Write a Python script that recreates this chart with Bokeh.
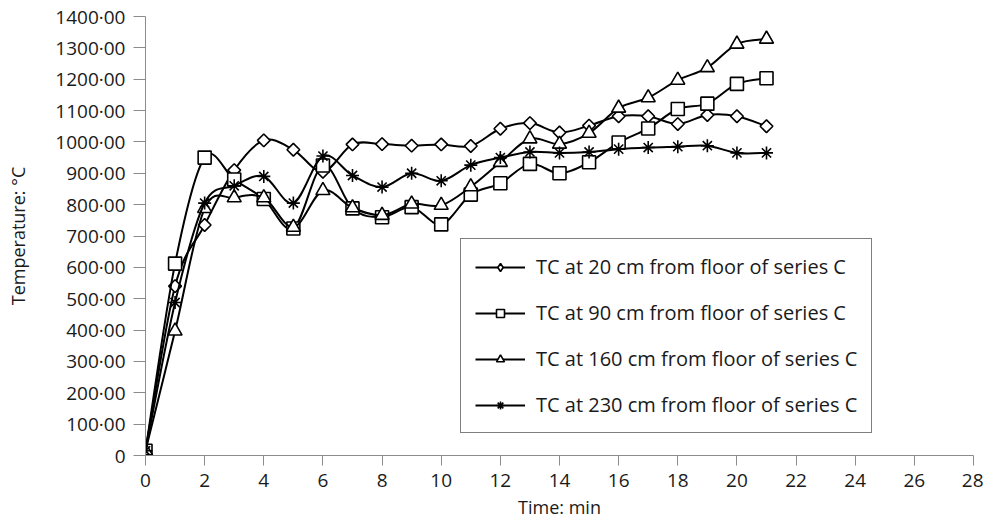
import math
from bokeh.plotting import figure
from bokeh.models import (Range1d, CustomJSTickFormatter, FixedTicker, Legend, LegendItem,
                          ColumnDataSource)
from bokeh.embed import file_html
from bokeh.resources import INLINE

# ---- data ----
minutes = list(range(0, 22))
tc_20 = [15, 540, 735, 910, 1005, 975, 905, 992, 993, 988, 992, 987, 1042, 1060, 1030, 1052,
         1082, 1082, 1057, 1086, 1082, 1050]
tc_90 = [15, 612, 950, 880, 818, 724, 925, 788, 760, 792, 737, 832, 868, 930, 900, 935,
         998, 1043, 1105, 1122, 1185, 1203]
tc_160 = [15, 397, 788, 822, 822, 728, 845, 790, 766, 802, 798, 857, 935, 1010, 993, 1028,
          1108, 1141, 1197, 1237, 1312, 1328]
tc_230 = [15, 488, 805, 860, 890, 805, 955, 893, 856, 900, 876, 926, 950, 968, 965, 968,
          977, 982, 985, 988, 965, 965]
series_labels = ["TC at 20 cm from floor of series C",
                 "TC at 90 cm from floor of series C",
                 "TC at 160 cm from floor of series C",
                 "TC at 230 cm from floor of series C"]
x_ticks = list(range(0, 29, 2))
y_ticks = list(range(0, 1401, 100))

FONT = "Open Sans"
TXT = "#1a1a1a"
AX = "#8c8c8c"

p = figure(width=983, height=521, output_backend="svg", toolbar_location=None,
           x_range=Range1d(0, 28), y_range=Range1d(0, 1400),
           min_border_left=145, min_border_right=10, min_border_top=16, min_border_bottom=66)
p.outline_line_color = None
p.xgrid.visible = False
p.ygrid.visible = False
p.background_fill_color = "white"

for ax in (p.xaxis[0], p.yaxis[0]):
    ax.axis_line_color = AX
    ax.major_tick_line_color = AX
    ax.minor_tick_line_color = None
    ax.major_tick_in = 0
    ax.major_label_text_font = FONT
    ax.major_label_text_font_size = "19px"
    ax.major_label_text_color = TXT
    ax.axis_label_text_font = FONT
    ax.axis_label_text_font_size = "18px"
    ax.axis_label_text_font_style = "normal"
    ax.axis_label_text_color = TXT
    ax.major_label_standoff = 8

p.xaxis.major_tick_out = 10
p.yaxis.major_tick_out = 12
p.xaxis.ticker = FixedTicker(ticks=x_ticks)
p.yaxis.ticker = FixedTicker(ticks=y_ticks)
p.yaxis.formatter = CustomJSTickFormatter(
    code="return tick == 0 ? '0' : tick.toFixed(2).replace('.', '\u00b7');")
p.xaxis.axis_label = "Time: min"
p.yaxis.axis_label = "Temperature: \u00b0C"
p.xaxis.axis_label_standoff = 5
p.yaxis.axis_label_standoff = 22


def bezier_source(xs, ys):
    n = len(xs)
    d = dict(x0=[], y0=[], x1=[], y1=[], cx0=[], cy0=[], cx1=[], cy1=[])
    for i in range(n - 1):
        a = max(i - 1, 0)
        b = i
        c = i + 1
        e = min(i + 2, n - 1)
        d["x0"].append(xs[b]); d["y0"].append(ys[b])
        d["x1"].append(xs[c]); d["y1"].append(ys[c])
        d["cx0"].append(xs[b] + (xs[c] - xs[a]) / 6.0)
        d["cy0"].append(ys[b] + (ys[c] - ys[a]) / 6.0)
        d["cx1"].append(xs[c] - (xs[e] - xs[b]) / 6.0)
        d["cy1"].append(ys[c] - (ys[e] - ys[b]) / 6.0)
    return ColumnDataSource(d)


marker_specs = [
    dict(marker="square", size=9, angle=math.pi / 4, legend_marker="diamond"),
    dict(marker="square", size=13, angle=0, legend_marker=None),
    dict(marker="triangle", size=14, angle=0, legend_marker=None),
    dict(marker="asterisk", size=13, angle=0, legend_marker=None),
]

items = []
for ys, lab, spec in zip([tc_20, tc_90, tc_160, tc_230], series_labels, marker_specs):
    br = p.bezier(x0="x0", y0="y0", x1="x1", y1="y1", cx0="cx0", cy0="cy0",
                  cx1="cx1", cy1="cy1", source=bezier_source(minutes, ys),
                  line_color="black", line_width=2)
    sr = p.scatter(minutes, ys, marker=spec["marker"], size=spec["size"], angle=spec["angle"],
                   fill_color="white", line_color="black", line_width=1.6)
    if spec["legend_marker"]:
        # legend-only swatch (NaN point, not drawn in the plot): unrotated diamond
        lr = p.scatter(x=[float("nan")], y=[float("nan")], marker=spec["legend_marker"],
                       size=13, fill_color="white", line_color="black", line_width=1.6)
        items.append(LegendItem(label=lab, renderers=[br, lr]))
    else:
        items.append(LegendItem(label=lab, renderers=[br, sr]))

legend = Legend(items=items, location=(315, 22), orientation="vertical")
legend.label_text_font = FONT
legend.label_text_font_size = "20px"
legend.label_text_color = TXT
legend.border_line_color = "black"
legend.border_line_width = 1
legend.background_fill_color = "white"
legend.glyph_width = 50
legend.glyph_height = 20
legend.label_height = 20
legend.spacing = 19
legend.padding = 14
legend.margin = 0
legend.label_standoff = 11
p.add_layout(legend, "center")

open("out.html", "w").write(file_html(p, INLINE))
